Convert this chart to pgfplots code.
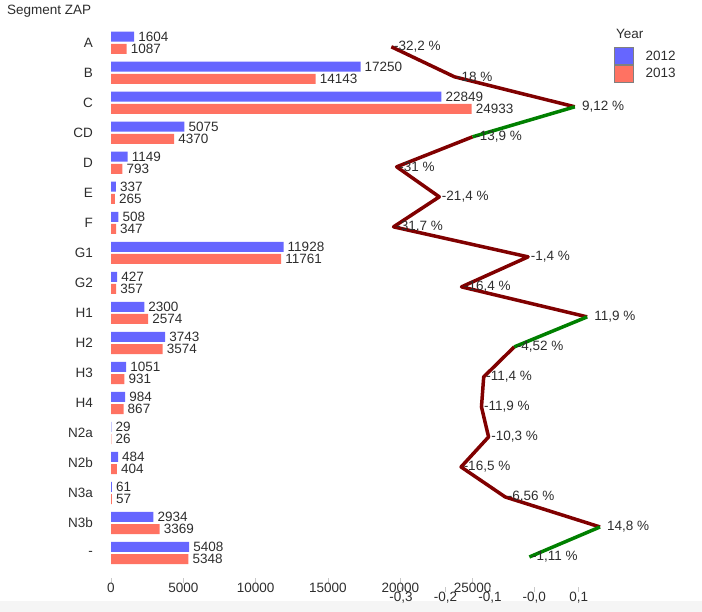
\documentclass[border=0pt]{standalone}
\usepackage{pgfplots}
\pgfplotsset{compat=1.18}
\usepackage{fontspec}
\setmainfont{Liberation Sans}
\definecolor{cblue}{RGB}{102,102,255}
\definecolor{cred}{RGB}{255,114,98}
\definecolor{cline}{RGB}{128,0,0}
\definecolor{cgreen}{RGB}{0,128,0}
\definecolor{ctext}{RGB}{45,45,45}
\definecolor{ctick}{RGB}{200,200,200}
\definecolor{cband}{RGB}{245,245,245}
\newcommand{\cf}{\fontsize{13.5}{16}\selectfont}
\pgfplotsset{
  mybox/.style={legend image code/.code={\draw[##1, draw=gray, line width=0.6pt] (0pt,-8.5pt) rectangle (19pt,8.5pt);}},
}
\begin{document}
\begin{tikzpicture}[font=\cf, text=ctext]
\useasboundingbox (0,0) rectangle (702pt,612pt);
\fill[cband] (0,0) rectangle (702pt,11pt);
\node[anchor=west, inner sep=0pt] at (7pt,600.5pt) {Segment ZAP};

\begin{axis}[
  at={(111pt,34pt)}, anchor=south west,
  scale only axis, width=509pt, height=553pt,
  xmin=0, xmax=35190, ymin=-0.833, ymax=17.593,
  axis line style={draw=none}, clip=false,
  font=\cf,
  scaled x ticks=false,
  /pgf/number format/.cd, fixed, precision=0, 1000 sep={}, assume math mode=true, /pgfplots/.cd,
  xtick={0,5000,...,25000},
  xtick pos=bottom, ytick pos=left, tick align=outside,
  major tick length=5pt,
  x tick style={ctick, line width=0.8pt},
  ytick={0,...,17},
  yticklabels={{-},N3b,N3a,N2b,N2a,H4,H3,H2,H1,G2,G1,F,E,D,CD,C,B,A},
  y tick style={draw=none},
  yticklabel style={anchor=east, inner sep=0pt, xshift=-13pt, text=ctext},
  xticklabel style={anchor=north, inner sep=0pt, text=ctext},
  legend style={at={(0.988,0.9597)}, anchor=north west, draw=none, fill=none, inner sep=0pt, row sep=0pt, column sep=10pt, font=\cf, text=ctext},
  legend cell align=left,
]
\addplot[xbar, bar width=10pt, bar shift=6.1pt, fill=cblue, draw=none, mybox,
  point meta=x, nodes near coords,
  every node near coord/.append style={anchor=west, inner sep=0pt, xshift=4pt, yshift=6.1pt, font=\cf, text=ctext}] coordinates {
 (1604,17) (17250,16) (22849,15) (5075,14) (1149,13) (337,12) (508,11) (11928,10) (427,9)
 (2300,8) (3743,7) (1051,6) (984,5) (29,4) (484,3) (61,2) (2934,1) (5408,0)};
\addlegendentry{2012}
\addplot[xbar, bar width=10pt, bar shift=-6.1pt, fill=cred, draw=none, mybox,
  point meta=x, nodes near coords,
  every node near coord/.append style={anchor=west, inner sep=0pt, xshift=4pt, yshift=-6.1pt, font=\cf, text=ctext}] coordinates {
 (1087,17) (14143,16) (24933,15) (4370,14) (793,13) (265,12) (347,11) (11761,10) (357,9)
 (2574,8) (3574,7) (931,6) (867,5) (26,4) (404,3) (57,2) (3369,1) (5348,0)};
\addlegendentry{2013}
\node[anchor=west, inner sep=0pt, text=ctext] at (axis description cs:0.9921,0.9837) {Year};
\end{axis}

\begin{axis}[
  at={(111pt,25pt)}, anchor=south west,
  scale only axis, width=509pt, height=562pt,
  xmin=-0.9534, xmax=0.1930, ymin=-1.0, ymax=17.726,
  axis line style={draw=none}, clip=false,
  font=\cf,
  xtick={-0.3,-0.2,-0.1,0,0.1},
  xticklabels={{-0,3},{-0,2},{-0,1},{-0,0},{0,1}},
  ytick=\empty,
  xtick pos=bottom, tick align=outside, major tick length=5pt,
  x tick style={ctick, line width=0.8pt},
  xticklabel style={anchor=north, inner sep=0pt, text=ctext},
]
\addplot[cline, line width=3.5pt, line join=round] coordinates {(-0.322,17) (-0.18,16) (0.0912,15)};
\addplot[cline, line width=3.5pt, line join=round] coordinates {(-0.139,14) (-0.31,13) (-0.214,12) (-0.317,11) (-0.014,10) (-0.164,9) (0.119,8)};
\addplot[cline, line width=3.5pt, line join=round] coordinates {(-0.0452,7) (-0.114,6) (-0.119,5) (-0.103,4) (-0.165,3) (-0.0656,2) (0.148,1)};
\addplot[cgreen, line width=3.5pt, line join=round] coordinates {(0.0912,15) (-0.139,14)};
\addplot[cgreen, line width=3.5pt, line join=round] coordinates {(0.119,8) (-0.0452,7)};
\addplot[cgreen, line width=3.5pt, line join=round] coordinates {(0.148,1) (-0.0111,0)};
\addplot[draw=none, mark=none, nodes near coords, point meta=explicit symbolic,
  every node near coord/.append style={anchor=west, inner sep=0pt, xshift=2.5pt, font=\cf, text=ctext}]
 coordinates {
 (-0.322,17) [-32,2~\%]
 (-0.18,16) [-18~\%]
 (0.0912,15) [\phantom{-}9,12~\%]
 (-0.139,14) [-13,9~\%]
 (-0.31,13) [-31~\%]
 (-0.214,12) [-21,4~\%]
 (-0.317,11) [-31,7~\%]
 (-0.014,10) [-1,4~\%]
 (-0.164,9) [-16,4~\%]
 (0.119,8) [\phantom{-}11,9~\%]
 (-0.0452,7) [-4,52~\%]
 (-0.114,6) [-11,4~\%]
 (-0.119,5) [-11,9~\%]
 (-0.103,4) [-10,3~\%]
 (-0.165,3) [-16,5~\%]
 (-0.0656,2) [-6,56~\%]
 (0.148,1) [\phantom{-}14,8~\%]
 (-0.0111,0) [-1,11~\%]
 };
\end{axis}
\end{tikzpicture}
\end{document}
